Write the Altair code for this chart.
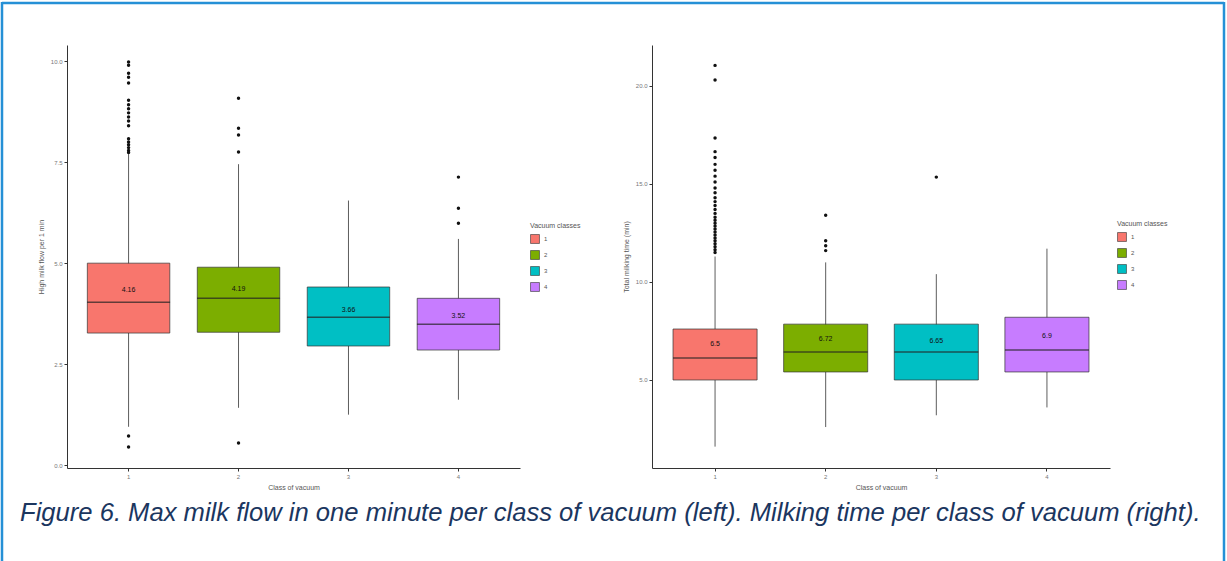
import altair as alt
import pandas as pd

classes = ["1", "2", "3", "4"]
hue = ["#F8766D", "#7CAE00", "#00BFC4", "#C77CFF"]

caption = ("Figure 6. Max milk flow in one minute per class of vacuum (left). "
           "Milking time per class of vacuum (right).")

# Max milk flow in the first minute, per vacuum class
flow_q1 = [3.27, 3.29, 2.95, 2.85]
flow_median = [4.03, 4.13, 3.66, 3.49]
flow_q3 = [5.00, 4.90, 4.41, 4.13]
flow_low = [0.95, 1.42, 1.25, 1.62]
flow_high = [7.70, 7.45, 6.55, 5.60]
flow_mean = [4.16, 4.19, 3.66, 3.52]
flow_out_1 = [9.98, 9.90, 9.70, 9.60, 9.46, 9.03, 8.92, 8.82, 8.72, 8.62, 8.52,
              8.40, 8.08, 8.00, 7.93, 7.86, 7.79, 7.74, 0.72, 0.45]
flow_out_2 = [9.08, 8.34, 8.17, 7.75, 0.55]
flow_out_3 = []
flow_out_4 = [7.13, 6.36, 5.99]

# Total milking time (min), per vacuum class
time_q1 = [5.00, 5.41, 5.00, 5.41]
time_median = [6.12, 6.43, 6.43, 6.53]
time_q3 = [7.60, 7.85, 7.85, 8.20]
time_low = [1.60, 2.60, 3.20, 3.60]
time_high = [11.30, 11.00, 10.40, 11.70]
time_mean = [6.5, 6.72, 6.65, 6.9]
time_out_1 = [21.05, 20.30, 17.35, 16.65, 16.35, 16.00, 15.70, 15.40, 15.10,
              14.80, 14.55, 14.30, 14.10, 13.90, 13.70, 13.50, 13.30, 13.15,
              13.00, 12.85, 12.70, 12.55, 12.40, 12.25, 12.10, 11.95, 11.80,
              11.65, 11.50]
time_out_2 = [13.40, 12.10, 11.85, 11.60]
time_out_3 = [15.35]
time_out_4 = []

FONT = "Liberation Sans"
AXIS_COLOR = "#333333"
TEXT_COLOR = "#555555"
FRAME = "#2590d6"


def axis_style(**kw):
    return alt.Axis(domainColor=AXIS_COLOR, domainWidth=1, tickColor=AXIS_COLOR,
                    tickSize=3, labelFontSize=6, labelColor="#777777",
                    titleFontSize=7, titleColor=TEXT_COLOR, titleFontWeight="normal",
                    grid=False, labelPadding=2, **kw)


def panel(q1, med, q3, lo, hi, mean, outliers, ydomain, yticks, ytitle,
          width, pad_outer, box_band, box_px, legend_x, legend_y):
    stats = pd.DataFrame({
        "cls": classes, "q1": q1, "median": med, "q3": q3,
        "lo": lo, "hi": hi, "mean": mean,
        "label": [str(v) for v in mean],
    })
    pts = pd.DataFrame(
        [{"cls": c, "v": v} for c, vals in zip(classes, outliers) for v in vals]
    )

    x = alt.X("cls:N", title="Class of vacuum",
              scale=alt.Scale(domain=classes, paddingInner=0, paddingOuter=pad_outer),
              axis=axis_style(labelAngle=0, titlePadding=4))
    yscale = alt.Scale(domain=ydomain, nice=False, zero=False)
    yaxis = axis_style(values=yticks, format=".1f", titlePadding=6)

    base = alt.Chart(stats)
    whisker = base.mark_rule(color=AXIS_COLOR, strokeWidth=0.8).encode(
        x=x, y=alt.Y("lo:Q", scale=yscale, axis=yaxis, title=ytitle), y2="hi:Q")
    box = base.mark_bar(width={"band": box_band}, stroke=AXIS_COLOR,
                        strokeWidth=0.7).encode(
        x=x, y=alt.Y("q1:Q", scale=yscale), y2="q3:Q",
        fill=alt.Fill("cls:N", scale=alt.Scale(domain=classes, range=hue),
                      legend=alt.Legend(title="Vacuum classes", orient="none",
                                        legendX=legend_x, legendY=legend_y,
                                        titleFontSize=7, titleFontWeight="normal",
                                        titleColor=TEXT_COLOR, labelFontSize=6,
                                        labelColor=TEXT_COLOR, symbolType="square",
                                        symbolSize=80, symbolStrokeColor=AXIS_COLOR,
                                        symbolStrokeWidth=0.6, rowPadding=4)))
    median = base.mark_tick(size=box_px, thickness=1.5, color="#222222").encode(
        x=x, y=alt.Y("median:Q", scale=yscale))
    label = base.mark_text(fontSize=7, color="#111111", dy=-7).encode(
        x=x, y=alt.Y("mean:Q", scale=yscale), text="label:N")
    dots = alt.Chart(pts).mark_circle(size=12, color="#111111", opacity=1).encode(
        x=x, y=alt.Y("v:Q", scale=yscale))

    return alt.layer(whisker, box, median, label, dots).properties(
        width=width, height=423)


one = pd.DataFrame({"k": [0]})

# invisible rectangle that fixes the page extent around the two panels
extent = alt.Chart(one).mark_rect(opacity=0).encode(
    x=alt.value(-67), x2=alt.value(1160), y=alt.value(-45), y2=alt.value(516))
# blue frame around the whole figure and its caption
frame_top = alt.Chart(one).mark_rule(color=FRAME, strokeWidth=2.5).encode(
    x=alt.value(-65), x2=alt.value(1157), y=alt.value(-42))
frame_left = alt.Chart(one).mark_rule(color=FRAME, strokeWidth=2.5).encode(
    x=alt.value(-65), y=alt.value(-43), y2=alt.value(516))
frame_right = alt.Chart(one).mark_rule(color=FRAME, strokeWidth=2.5).encode(
    x=alt.value(1157), y=alt.value(-43), y2=alt.value(516))
caption_text = alt.Chart(one).mark_text(
    text=caption, align="left", baseline="middle", font=FONT,
    fontStyle="italic", fontSize=25.6, color="#1b365f").encode(
    x=alt.value(-47), y=alt.value(468))

left = alt.layer(
    panel(flow_q1, flow_median, flow_q3, flow_low, flow_high, flow_mean,
          [flow_out_1, flow_out_2, flow_out_3, flow_out_4],
          [-0.07, 10.40], [0, 2.5, 5, 7.5, 10], "High milk flow per 1 min",
          453, 0.06, 0.75, 83, 463, 177),
    extent, frame_top, frame_left, frame_right, caption_text)

right = panel(time_q1, time_median, time_q3, time_low, time_high, time_mean,
              [time_out_1, time_out_2, time_out_3, time_out_4],
              [0.51, 22.09], [5, 10, 15, 20], "Total milking time (min)",
              458, 0.07, 0.76, 84, 465, 175)

chart = alt.hconcat(left, right, spacing=132, bounds="flush").resolve_scale(
    fill="independent", y="independent", x="independent"
).properties(
    autosize=alt.AutoSizeParams(type="pad"),
    padding=0,
    background="white",
).configure(font=FONT).configure_view(strokeWidth=0)

chart.save("out.html", embed_options={"renderer": "svg", "actions": False})
